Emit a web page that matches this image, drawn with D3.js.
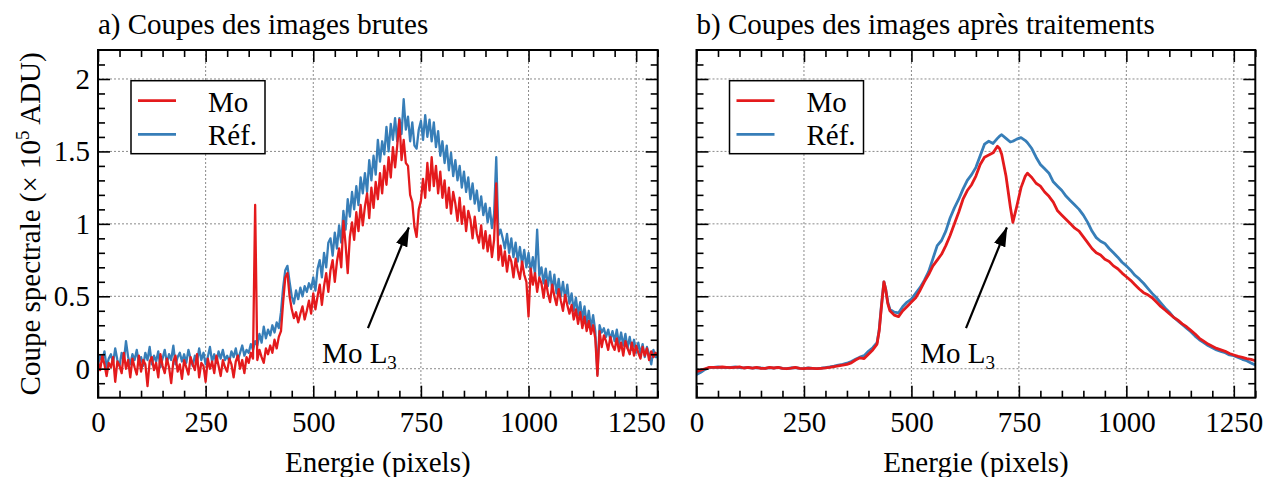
<!DOCTYPE html>
<html><head><meta charset="utf-8">
<script src="https://cdn.jsdelivr.net/npm/d3@7"></script>
<style>body{margin:0;background:#fff} svg{display:block}</style>
</head><body><svg id="c" width="1265" height="477"></svg>
<script>
// ---------- DATA ----------
const energyA = d3.range(0, 1301, 5); // pixel positions of the raw cut
const rawMo = [
 0.05, -0.01, 0.09, 0.03, -0.05, 0.04, 0.01, 0.08, -0.09, 0.05, 0.02, -0.03, 0.11, 0.00, 0.06, -0.06, 0.07, 0.01, -0.04, 0.09,
 -0.02, 0.06, 0.03, -0.12, 0.05, 0.08, -0.01, 0.04, -0.06, 0.10, 0.02, -0.03, 0.07, 0.01, -0.10, 0.05, 0.09, -0.02, 0.03, -0.07,
 0.06, 0.01, -0.04, 0.08, 0.03, -0.01, 0.10, -0.06, 0.04, 0.02, -0.09, 0.07, 0.00, 0.05, -0.03, 0.09, 0.02, -0.05, 0.06, 0.01,
 -0.02, 0.07, 0.03, -0.06, 0.05, 0.09, 0.00, 0.06, -0.03, 0.08, 0.04, 0.11, 0.07, 1.13, 0.06, 0.13, 0.08, 0.04, 0.14, 0.10,
 0.16, 0.11, 0.20, 0.14, 0.22, 0.26, 0.46, 0.63, 0.66, 0.50, 0.41, 0.35, 0.39, 0.32, 0.38, 0.43, 0.34, 0.40, 0.47, 0.38,
 0.52, 0.41, 0.50, 0.58, 0.44, 0.57, 0.66, 0.53, 0.68, 0.75, 0.60, 0.74, 0.83, 0.70, 1.02, 0.86, 0.66, 0.91, 1.01, 0.89,
 1.08, 0.95, 1.13, 0.99, 1.12, 1.21, 1.04, 1.25, 1.11, 1.29, 1.17, 1.35, 1.21, 1.40, 1.27, 1.46, 1.32, 1.53, 1.39, 1.54,
 1.72, 1.44, 1.58, 1.42, 1.40, 1.20, 1.15, 0.98, 0.91, 1.10, 1.16, 1.31, 1.18, 1.42, 1.23, 1.46, 1.26, 1.40, 1.21, 1.36,
 1.18, 1.30, 1.11, 1.25, 1.07, 1.22, 1.14, 1.02, 1.18, 1.00, 1.12, 0.95, 1.09, 1.03, 0.90, 1.05, 0.93, 0.87, 0.99, 0.83,
 0.95, 0.81, 0.92, 0.77, 0.89, 1.28, 0.75, 0.85, 0.71, 0.81, 0.67, 0.78, 0.74, 0.63, 0.76, 0.68, 0.62, 0.74, 0.65, 0.60,
 0.36, 0.69, 0.58, 0.66, 0.53, 0.63, 0.59, 0.49, 0.61, 0.52, 0.46, 0.58, 0.50, 0.44, 0.55, 0.47, 0.40, 0.51, 0.44, 0.38,
 0.44, 0.34, 0.41, 0.31, 0.39, 0.28, 0.36, 0.26, 0.33, 0.24, 0.30, 0.21, -0.05, 0.26, 0.15, 0.23, 0.19, 0.13, 0.22, 0.16,
 0.13, 0.21, 0.12, 0.18, 0.09, 0.19, 0.14, 0.10, 0.18, 0.09, 0.16, 0.11, 0.07, 0.15, 0.09, 0.14, 0.06, 0.12, 0.08, 0.11,
 0.09
];
const rawRef = [
 0.03, 0.09, 0.05, 0.12, 0.01, 0.07, 0.10, 0.04, 0.14, 0.06, 0.02, 0.11, 0.05, 0.19, 0.08, 0.03, 0.10, 0.06, 0.13, 0.04,
 0.08, 0.02, 0.11, 0.06, 0.15, 0.03, 0.09, 0.05, 0.12, 0.01, 0.07, 0.13, 0.04, 0.10, 0.06, 0.16, 0.03, 0.08, 0.11, 0.05,
 0.10, 0.04, 0.13, 0.07, 0.02, 0.09, 0.05, 0.14, 0.06, 0.11, 0.03, 0.08, 0.15, 0.05, 0.10, 0.04, 0.12, 0.07, 0.13, 0.06,
 0.09, 0.05, 0.12, 0.08, 0.14, 0.06, 0.11, 0.16, 0.09, 0.13, 0.11, 0.17, 0.13, 0.19, 0.16, 0.24, 0.18, 0.29, 0.21, 0.27,
 0.23, 0.30, 0.25, 0.32, 0.28, 0.39, 0.56, 0.68, 0.71, 0.60, 0.50, 0.45, 0.54, 0.48, 0.56, 0.50, 0.57, 0.53, 0.59, 0.55,
 0.63, 0.54, 0.69, 0.75, 0.63, 0.80, 0.70, 0.87, 0.90, 0.78, 0.94, 0.83, 0.99, 0.87, 1.09, 0.96, 1.17, 1.05, 1.22, 1.10,
 1.26, 1.13, 1.32, 1.21, 1.35, 1.22, 1.44, 1.30, 1.47, 1.34, 1.58, 1.43, 1.57, 1.48, 1.67, 1.50, 1.69, 1.58, 1.73, 1.57,
 1.73, 1.62, 1.86, 1.65, 1.74, 1.57, 1.70, 1.54, 1.52, 1.65, 1.71, 1.58, 1.75, 1.60, 1.72, 1.57, 1.70, 1.53, 1.64, 1.47,
 1.57, 1.42, 1.54, 1.37, 1.49, 1.33, 1.44, 1.30, 1.40, 1.25, 1.36, 1.22, 1.32, 1.17, 1.28, 1.14, 1.23, 1.09, 1.19, 1.06,
 1.14, 1.01, 1.11, 0.97, 1.07, 1.46, 0.92, 0.96, 0.90, 0.83, 0.93, 0.80, 0.90, 0.77, 0.87, 0.74, 0.84, 0.72, 0.82, 0.70,
 0.80, 0.67, 0.77, 0.65, 0.96, 0.64, 0.70, 0.59, 0.69, 0.57, 0.67, 0.54, 0.65, 0.52, 0.62, 0.50, 0.60, 0.48, 0.58, 0.45,
 0.52, 0.40, 0.49, 0.37, 0.46, 0.34, 0.43, 0.31, 0.40, 0.28, 0.37, 0.26, -0.04, 0.30, 0.25, 0.28, 0.22, 0.27, 0.20, 0.26,
 0.19, 0.27, 0.17, 0.25, 0.16, 0.24, 0.14, 0.22, 0.13, 0.20, 0.11, 0.18, 0.10, 0.17, 0.08, 0.15, 0.10, 0.03, 0.13, 0.08,
 0.08
];
const energyB = [
 0,10,20,30,40,50,60,70,80,90,100,110,120,130,140,150,160,170,180,190,200,210,220,230,240,250,260,270,280,290,
 300,310,320,330,340,350,360,370,380,390,400,410,420,425,430,436,440,445,450,
 460,470,480,490,500,510,520,530,540,550,560,570,580,590,600,610,620,630,640,650,660,670,680,690,700,
 705,710,720,730,736,745,755,765,770,
 780,790,800,810,820,830,840,850,860,870,880,890,900,910,920,930,940,950,960,970,980,990,1000,1010,1020,1030,1040,1050,
 1060,1070,1080,1090,1100,1110,1120,1130,1140,1150,1160,1170,1180,1190,1200,1210,1220,1230,1240,1250,1260,1270,1280,1290,1300
];
const procMo = [
 -0.02, -0.01, 0.00, 0.01, 0.01, 0.01, 0.012, 0.01, 0.008, 0.01,
 0.012, 0.005, 0.01, 0.004, 0.01, 0.003, 0.002, 0.01, 0.005, 0.01,
 0.003, 0.0, 0.004, 0.01, 0.003, 0.0, 0.004, 0.002, 0.0, 0.003,
 0.006, 0.01, 0.015, 0.02, 0.025, 0.03, 0.04, 0.06, 0.075, 0.07,
 0.10, 0.13, 0.17,
 0.26, 0.42, 0.60, 0.55, 0.45, 0.40,
 0.37, 0.36, 0.40, 0.43, 0.46, 0.49, 0.54, 0.60, 0.65, 0.71, 0.75, 0.79, 0.85, 0.92, 1.00, 1.08, 1.17, 1.23, 1.27, 1.33, 1.41, 1.46, 1.475, 1.49, 1.535,
 1.52, 1.48, 1.33, 1.12, 1.01, 1.12, 1.25, 1.33, 1.35,
 1.32, 1.28, 1.26, 1.22, 1.19, 1.15, 1.09, 1.06, 1.03, 1.00,
 0.97, 0.95, 0.91, 0.87, 0.83, 0.80, 0.785, 0.755, 0.74, 0.71,
 0.69, 0.66, 0.635, 0.61, 0.58, 0.55, 0.525, 0.51, 0.49, 0.46,
 0.43, 0.405, 0.38, 0.355, 0.335, 0.31, 0.29, 0.265, 0.24, 0.21,
 0.19, 0.17, 0.155, 0.14, 0.13, 0.12, 0.105, 0.095, 0.085, 0.078,
 0.07, 0.065, 0.055
];
const procRef = [
 -0.04, -0.025, -0.005, 0.008, 0.01, 0.012, 0.01, 0.008, 0.01, 0.012,
 0.008, 0.006, 0.01, 0.004, 0.008, 0.005, 0.003, 0.008, 0.004, 0.009,
 0.003, 0.001, 0.005, 0.008, 0.003, 0.0, 0.005, 0.002, 0.001, 0.004,
 0.008, 0.012, 0.018, 0.025, 0.03, 0.038, 0.05, 0.065, 0.08, 0.09,
 0.12, 0.145, 0.18,
 0.27, 0.43, 0.60, 0.55, 0.46, 0.41,
 0.39, 0.385, 0.43, 0.46, 0.48, 0.52, 0.56, 0.61, 0.67, 0.76, 0.85, 0.885, 0.95, 1.04, 1.11, 1.17, 1.24, 1.30, 1.34, 1.39, 1.47, 1.55, 1.57, 1.555, 1.59,
 1.605, 1.615, 1.59, 1.565, 1.57, 1.585, 1.595, 1.575, 1.56,
 1.52, 1.46, 1.41, 1.38, 1.35, 1.29, 1.26, 1.23, 1.19, 1.16,
 1.13, 1.10, 1.06, 1.01, 0.95, 0.905, 0.88, 0.865, 0.83, 0.80,
 0.77, 0.735, 0.71, 0.68, 0.645, 0.62, 0.59, 0.555, 0.52, 0.49,
 0.455, 0.42, 0.39, 0.355, 0.33, 0.305, 0.28, 0.255, 0.225, 0.20,
 0.18, 0.16, 0.145, 0.13, 0.12, 0.11, 0.095, 0.09, 0.078, 0.065,
 0.055, 0.04, 0.025
];
const xTicks = [0, 250, 500, 750, 1000, 1250];
const yTicks = [0, 0.5, 1, 1.5, 2];
const yTickLabels = ["0", "0.5", "1", "1.5", "2"];
const seriesNames = ["Mo", "Réf."];
const seriesColors = ["#e41a1c", "#377eb8"];
const panelTitles = ["a) Coupes des images brutes", "b) Coupes des images après traitements"];

// ---------- DRAWING ----------
const FONT = "'Liberation Serif','Times New Roman',serif";
const FS = 29;
const svg = d3.select("#c");
const TOP = 50, BOT = 397.7;
const y = d3.scaleLinear().domain([-0.2, 2.2]).range([BOT, TOP]);

const defs = svg.append("defs");
defs.append("marker").attr("id", "arrow").attr("viewBox", "0 0 20 12")
  .attr("refX", 19).attr("refY", 6).attr("markerWidth", 20).attr("markerHeight", 12)
  .attr("markerUnits", "userSpaceOnUse").attr("orient", "auto")
  .append("path").attr("d", "M0,0 L20,6 L0,12 Z").attr("fill", "#000");

const panels = [
  {x0: 98, x1: 657.7, title: panelTitles[0], xs: energyA, mo: rawMo, ref: rawRef, lw: 2.3, yLab: true},
  {x0: 696.5, x1: 1255.3, title: panelTitles[1], xs: energyB, mo: procMo, ref: procRef, lw: 2.8, yLab: false}
];

const minorX = d3.range(0, 1301, 50).filter(v => v % 250 !== 0);
const minorY = d3.range(-1, 22).filter(v => v % 5 !== 0).map(v => v / 10);

function styleAxis(sel) {
  sel.select(".domain").remove();
  sel.attr("font-family", FONT).attr("font-size", FS);
  sel.selectAll(".tick line").attr("stroke", "#000").attr("stroke-width", 1.6);
  sel.selectAll(".tick text").attr("fill", "#000");
}

panels.forEach((p, k) => {
  const x = d3.scaleLinear().domain([0, 1300]).range([p.x0, p.x1]);
  const g = svg.append("g");
  defs.append("clipPath").attr("id", "clip" + k).append("rect")
    .attr("x", p.x0).attr("y", TOP).attr("width", p.x1 - p.x0).attr("height", BOT - TOP);

  // grid
  g.append("g").selectAll("line").data(xTicks.filter(t => t > 0)).join("line")
    .attr("x1", d => x(d)).attr("x2", d => x(d)).attr("y1", TOP).attr("y2", BOT)
    .attr("stroke", "#8a8a8a").attr("stroke-width", 1).attr("stroke-dasharray", "2,2");
  g.append("g").selectAll("line").data(yTicks).join("line")
    .attr("x1", p.x0).attr("x2", p.x1).attr("y1", d => y(d)).attr("y2", d => y(d))
    .attr("stroke", "#8a8a8a").attr("stroke-width", 1).attr("stroke-dasharray", "2,2");

  // series
  const line = vals => d3.line().x((d, i) => x(p.xs[i])).y(d => y(d))(vals);
  const lg = g.append("g").attr("clip-path", `url(#clip${k})`);
  lg.append("path").attr("d", line(p.ref)).attr("fill", "none")
    .attr("stroke", seriesColors[1]).attr("stroke-width", p.lw).attr("stroke-linejoin", "round");
  lg.append("path").attr("d", line(p.mo)).attr("fill", "none")
    .attr("stroke", seriesColors[0]).attr("stroke-width", p.lw).attr("stroke-linejoin", "round");

  // axes (ticks inward)
  g.append("g").attr("transform", `translate(0,${BOT})`)
    .call(d3.axisBottom(x).tickValues(xTicks).tickSize(-12).tickPadding(14).tickFormat(d3.format("d"))).call(styleAxis);
  g.append("g").attr("transform", `translate(0,${BOT})`)
    .call(d3.axisBottom(x).tickValues(minorX).tickSize(-7).tickFormat("")).call(styleAxis);
  g.append("g").attr("transform", `translate(0,${TOP})`)
    .call(d3.axisTop(x).tickValues(xTicks).tickSize(-12).tickFormat("")).call(styleAxis);
  g.append("g").attr("transform", `translate(0,${TOP})`)
    .call(d3.axisTop(x).tickValues(minorX).tickSize(-7).tickFormat("")).call(styleAxis);
  g.append("g").attr("transform", `translate(${p.x0},0)`)
    .call(d3.axisLeft(y).tickValues(yTicks).tickSize(-12).tickPadding(8)
      .tickFormat((d, i) => p.yLab ? yTickLabels[i] : "")).call(styleAxis);
  g.append("g").attr("transform", `translate(${p.x0},0)`)
    .call(d3.axisLeft(y).tickValues(minorY).tickSize(-7).tickFormat("")).call(styleAxis);
  g.append("g").attr("transform", `translate(${p.x1},0)`)
    .call(d3.axisRight(y).tickValues(yTicks).tickSize(-12).tickFormat("")).call(styleAxis);
  g.append("g").attr("transform", `translate(${p.x1},0)`)
    .call(d3.axisRight(y).tickValues(minorY).tickSize(-7).tickFormat("")).call(styleAxis);

  // frame
  g.append("rect").attr("x", p.x0).attr("y", TOP).attr("width", p.x1 - p.x0).attr("height", BOT - TOP)
    .attr("fill", "none").attr("stroke", "#000").attr("stroke-width", 2);

  // title
  g.append("text").attr("x", p.x0).attr("y", 34).attr("font-family", FONT).attr("font-size", FS)
    .text(p.title);

  // x label
  g.append("text").attr("x", (p.x0 + p.x1) / 2).attr("y", 472).attr("text-anchor", "middle")
    .attr("font-family", FONT).attr("font-size", FS).text("Energie (pixels)");

  // legend
  const lx = p.x0 + 33, ly = 80.7;
  const leg = g.append("g");
  leg.append("rect").attr("x", lx).attr("y", ly).attr("width", 134).attr("height", 73)
    .attr("fill", "#fff").attr("stroke", "#000").attr("stroke-width", 1.5);
  seriesNames.forEach((nm, i) => {
    const yy = ly + 20 + i * 33.6;
    leg.append("line").attr("x1", lx + 7).attr("x2", lx + 45).attr("y1", yy).attr("y2", yy)
      .attr("stroke", seriesColors[i]).attr("stroke-width", 2.8);
    leg.append("text").attr("x", lx + 77).attr("y", yy + 11).attr("font-family", FONT).attr("font-size", FS).text(nm);
  });

  // annotation
  const tail = [627, 0.28], tip = [722, 0.975];
  g.append("line").attr("x1", x(tail[0])).attr("y1", y(tail[1])).attr("x2", x(tip[0])).attr("y2", y(tip[1]))
    .attr("stroke", "#000").attr("stroke-width", 2.2).attr("marker-end", "url(#arrow)");
  const t = g.append("text").attr("x", x(520.5)).attr("y", y(0.04)).attr("font-family", FONT).attr("font-size", FS);
  t.append("tspan").text("Mo L");
  t.append("tspan").attr("font-size", 19).attr("dy", 6).text("3");
});

// y label
const yl = svg.append("text").attr("transform", `translate(40,${(TOP + BOT) / 2}) rotate(-90)`)
  .attr("text-anchor", "middle").attr("font-family", FONT).attr("font-size", FS);
yl.append("tspan").text("Coupe spectrale (× 10");
yl.append("tspan").attr("font-size", 19).attr("dy", -11).text("5");
yl.append("tspan").attr("dy", 11).text(" ADU)");
</script>
</body></html>
